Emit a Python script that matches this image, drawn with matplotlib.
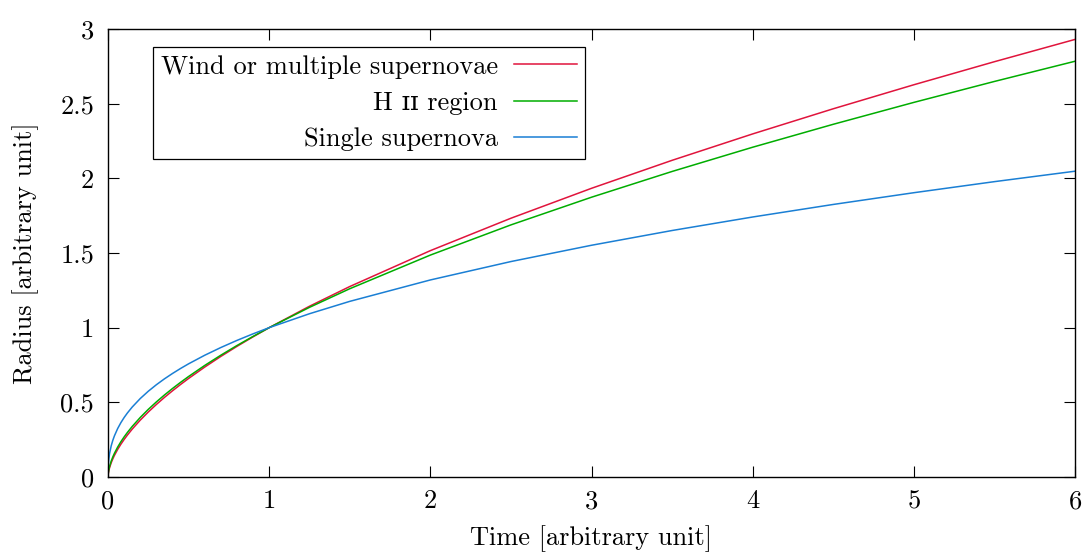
import matplotlib
matplotlib.use("Agg")
import matplotlib.pyplot as plt
from matplotlib.ticker import FuncFormatter, MultipleLocator

# Expansion radius versus time for three kinds of bubble
time = [0, 0.0001, 0.0005, 0.002, 0.005, 0.01, 0.02, 0.03, 0.04, 0.06, 0.08, 0.1, 0.12,
        0.15, 0.2, 0.25, 0.3, 0.35, 0.4, 0.45, 0.5, 0.6, 0.7, 0.8, 0.9, 1.0, 1.25, 1.5,
        2.0, 2.5, 3.0, 3.5, 4.0, 4.5, 5.0, 5.5, 6.0]
wind_radius = [0, 0.0040, 0.0104, 0.0240, 0.0416, 0.0631, 0.0956, 0.1220, 0.1450, 0.1849,
               0.2197, 0.2512, 0.2802, 0.3204, 0.3807, 0.4353, 0.4856, 0.5327, 0.5771,
               0.6194, 0.6598, 0.7360, 0.8074, 0.8747, 0.9387, 1.0, 1.1433, 1.2754,
               1.5157, 1.7328, 1.9332, 2.1206, 2.2974, 2.4658, 2.6266, 2.7810, 2.9302]
hii_radius = [0, 0.0052, 0.0130, 0.0287, 0.0484, 0.0720, 0.1070, 0.1348, 0.1589, 0.2003,
              0.2362, 0.2683, 0.2977, 0.3382, 0.3986, 0.4529, 0.5026, 0.5489, 0.5924,
              0.6336, 0.6729, 0.7469, 0.8156, 0.8803, 0.9415, 1.0, 1.1360, 1.2608,
              1.4860, 1.6882, 1.8735, 2.0460, 2.2083, 2.3619, 2.5085, 2.6488, 2.7840]
sn_radius = [0, 0.0251, 0.0478, 0.0833, 0.1201, 0.1585, 0.2091, 0.2460, 0.2759, 0.3245,
             0.3641, 0.3981, 0.4282, 0.4682, 0.5253, 0.5743, 0.6178, 0.6571, 0.6931,
             0.7266, 0.7579, 0.8152, 0.8670, 0.9146, 0.9587, 1.0, 1.0933, 1.1761,
             1.3195, 1.4427, 1.5518, 1.6506, 1.7411, 1.8251, 1.9037, 1.9778, 2.0477]

labels = ["Wind or multiple supernovae", "H \u026a\u026a region", "Single supernova"]
colors = ["#e0143c", "#00ad00", "#1a7fd4"]

plt.rcParams["font.family"] = ["cmr10", "DejaVu Serif"]
plt.rcParams["mathtext.fontset"] = "cm"
FS = 19

fig = plt.figure(figsize=(10.86, 5.52), dpi=100)
ax = fig.add_axes([108 / 1086, 75 / 552, 967 / 1086, 448 / 552])

for series, lab, col in zip([wind_radius, hii_radius, sn_radius], labels, colors):
    ax.plot(time, series, color=col, lw=1.1, label=lab)

ax.set_xlim(0, 6)
ax.set_ylim(0, 3)
ax.xaxis.set_major_locator(MultipleLocator(1))
ax.yaxis.set_major_locator(MultipleLocator(0.5))
fmt = FuncFormatter(lambda v, p: "%g" % v)
ax.xaxis.set_major_formatter(fmt)
ax.yaxis.set_major_formatter(fmt)
ax.tick_params(direction="in", length=8, width=0.8, top=True, right=True,
               labelsize=FS)
ax.tick_params(axis="x", pad=9)
ax.tick_params(axis="y", pad=10)
for s in ax.spines.values():
    s.set_linewidth(1.0)

ax.set_xlabel("Time [arbitrary unit]", fontsize=FS, labelpad=9)
ax.set_ylabel("Radius [arbitrary unit]", fontsize=FS, labelpad=15)

leg = ax.legend(loc="upper right", bbox_to_anchor=((585 - 108) / 967, 1 - 18 / 448),
                markerfirst=False, frameon=True, fancybox=False, framealpha=1,
                edgecolor="black", handlelength=2.4, handletextpad=0.6,
                labelspacing=0.47, borderpad=0.3, borderaxespad=0, fontsize=FS)
leg.get_frame().set_linewidth(0.9)
for t in leg.get_texts():
    t.set_ha("right")

fig.savefig("out.png", dpi=100)
